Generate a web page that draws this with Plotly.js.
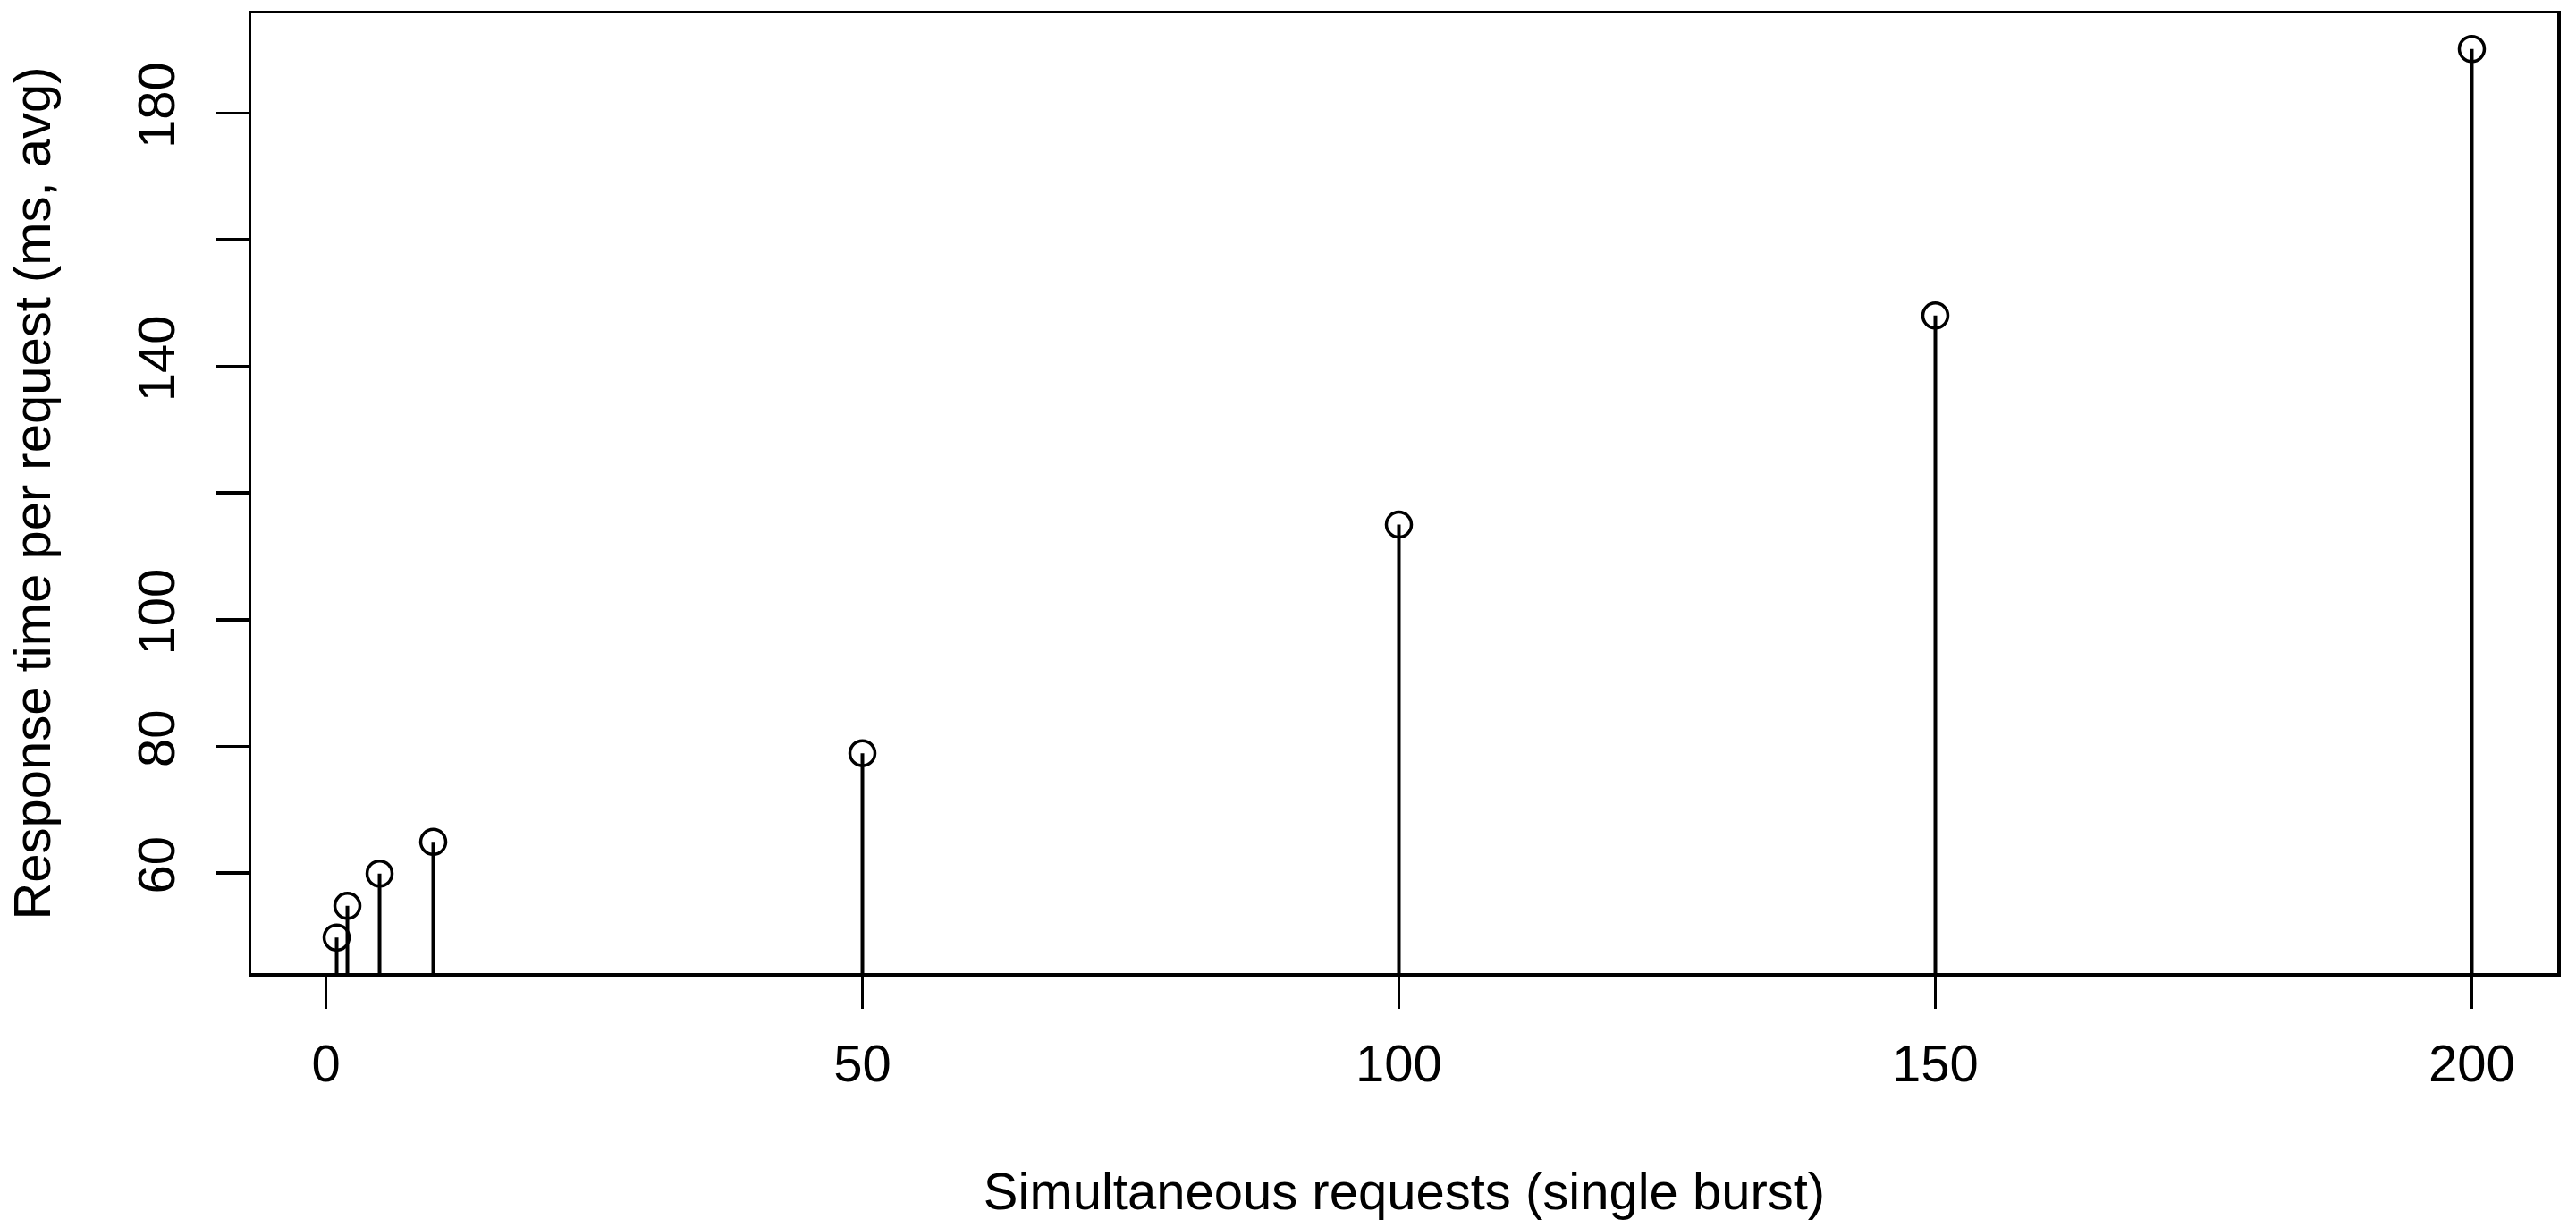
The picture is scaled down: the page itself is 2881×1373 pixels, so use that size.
<!DOCTYPE html>
<html>
<head>
<meta charset="utf-8">
<script src="https://cdn.plot.ly/plotly-3.0.1.min.js"></script>
<style>
  html, body { margin: 0; padding: 0; background: #fff; }
  #chart { width: 2881px; height: 1373px; }
</style>
</head>
<body>
<div id="chart"></div>
<script>
// simultaneous requests vs average response time
const requests = [1, 2, 5, 10, 50, 100, 150, 200];
const responseMs = [49.8, 54.8, 59.9, 64.9, 78.9, 115.0, 148.0, 190.1];

const xTickVals = [0, 50, 100, 150, 200];
const yTickVals = [60, 80, 100, 120, 140, 160, 180];
const yTickText = ['60', '80', '100', '', '140', '', '180'];

// R style 4% padding on both axes
function padRange(vals) {
    const lo = Math.min(...vals);
    const hi = Math.max(...vals);
    const pad = (hi - lo) * 0.04;
    return [lo - pad, hi + pad];
}

// vertical stems (type = "h") from 0 up to each value
const stemX = [];
const stemY = [];
requests.forEach((r, i) => {
    stemX.push(r, r, null);
    stemY.push(0, responseMs[i], null);
});

const stemTrace = {
    x: stemX,
    y: stemY,
    type: 'scatter',
    mode: 'lines',
    line: { color: '#000', width: 4 },
    hoverinfo: 'skip',
    showlegend: false
};

const pointTrace = {
    x: requests,
    y: responseMs,
    type: 'scatter',
    mode: 'markers',
    marker: {
        symbol: 'circle-open',
        size: 28,
        color: '#000',
        line: { color: '#000', width: 3.5 }
    },
    showlegend: false
};

const axisFont = { family: 'Liberation Sans, Arial, sans-serif', size: 58, color: '#000' };

const layout = {
    width: 2881,
    height: 1373,
    margin: { l: 281, r: 21, t: 15, b: 285 },
    paper_bgcolor: '#fff',
    plot_bgcolor: '#fff',
    font: axisFont,
    showlegend: false,
    xaxis: {
        range: padRange(requests),
        tickvals: xTickVals,
        ticktext: xTickVals.map(String),
        ticks: 'outside',
        ticklen: 36,
        tickwidth: 3.5,
        tickcolor: '#000',
        ticklabelstandoff: 12,
        showline: true,
        linewidth: 3.5,
        linecolor: '#000',
        mirror: true,
        showgrid: false,
        zeroline: false,
        tickfont: axisFont,
        title: { text: 'Simultaneous requests (single burst)', font: axisFont, standoff: 92 }
    },
    yaxis: {
        range: padRange(responseMs),
        tickvals: yTickVals,
        ticktext: yTickText,
        tickangle: -90,
        ticks: 'outside',
        ticklen: 36,
        tickwidth: 3.5,
        tickcolor: '#000',
        ticklabelstandoff: 23,
        showline: true,
        linewidth: 3.5,
        linecolor: '#000',
        mirror: true,
        showgrid: false,
        zeroline: false,
        tickfont: axisFont,
        title: { text: 'Response time per request (ms, avg)', font: axisFont, standoff: 68 }
    }
};

Plotly.newPlot('chart', [stemTrace, pointTrace], layout, { displayModeBar: false, staticPlot: true });
</script>
</body>
</html>
